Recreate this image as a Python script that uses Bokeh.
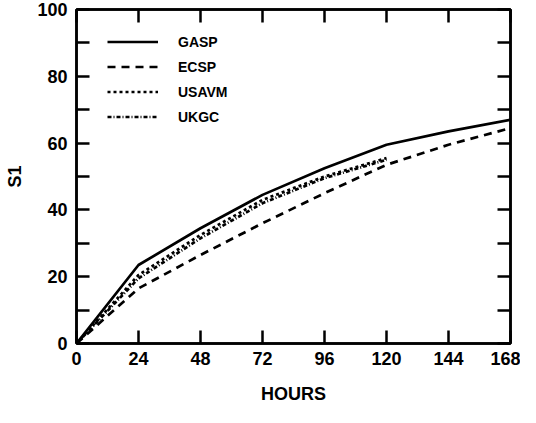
from bokeh.plotting import figure
from bokeh.models import LinearAxis, FixedTicker, Range1d, Legend, LegendItem, CustomJSTickFormatter
from bokeh.embed import file_html
from bokeh.resources import INLINE

hours = [0, 24, 48, 72, 96, 120, 144, 168]
hours_short = [0, 24, 48, 72, 96, 120]
gasp = [0, 23.5, 34.5, 44.5, 52.5, 59.5, 63.5, 67]
ecsp = [0, 16.5, 26.5, 36, 45, 53.5, 59.5, 64.5]
usavm = [0, 20.5, 32.5, 43, 50, 55.5]
ukgc = [0, 19.5, 31.5, 42, 49.5, 55]
x_ticks = [0, 24, 48, 72, 96, 120, 144, 168]
y_ticks = [0, 20, 40, 60, 80, 100]
y_minor = [10, 30, 50, 70, 90]

FONT = "Liberation Sans"

p = figure(width=520, height=407, output_backend="svg", toolbar_location=None,
           x_range=Range1d(0, 168), y_range=Range1d(0, 100),
           min_border_left=76, min_border_right=10, min_border_top=9, min_border_bottom=64)
p.grid.visible = False
p.outline_line_color = "black"
p.outline_line_width = 2.5
p.background_fill_color = "white"
p.border_fill_color = "white"

def style_axis(ax, labels=True):
    ax.axis_line_width = 2.5
    ax.axis_line_color = "black"
    ax.major_tick_in = 13
    ax.major_tick_out = 0
    ax.minor_tick_in = 13
    ax.minor_tick_out = 0
    ax.major_tick_line_width = 2.5
    ax.minor_tick_line_width = 2.5
    ax.major_label_text_font = FONT
    ax.major_label_text_font_style = "bold"
    ax.major_label_text_font_size = "18px"
    ax.major_label_text_color = "black"
    ax.axis_label_text_font = FONT
    ax.axis_label_text_font_style = "bold"
    ax.axis_label_text_font_size = "18px"
    ax.axis_label_text_color = "black"
    if not labels:
        ax.formatter = CustomJSTickFormatter(code="return '';")
        ax.major_label_standoff = 0

xb = p.xaxis[0]
xb.ticker = FixedTicker(ticks=x_ticks, minor_ticks=[])
xb.axis_label = "HOURS"
style_axis(xb)
xb.major_label_standoff = 8
xb.axis_label_standoff = 16

yl = p.yaxis[0]
yl.ticker = FixedTicker(ticks=y_ticks, minor_ticks=y_minor)
yl.axis_label = "S1"
style_axis(yl)
yl.major_label_standoff = 9
yl.axis_label_standoff = 9

xt = LinearAxis(ticker=FixedTicker(ticks=x_ticks, minor_ticks=[]))
style_axis(xt, labels=False)
p.add_layout(xt, "above")
yr = LinearAxis(ticker=FixedTicker(ticks=y_ticks, minor_ticks=y_minor))
style_axis(yr, labels=False)
p.add_layout(yr, "right")

lw = 2.7
r1 = p.line(hours, gasp, line_color="black", line_width=lw)
r2 = p.line(hours, ecsp, line_color="black", line_width=lw, line_dash="8 6")
r3 = p.line(hours_short, usavm, line_color="black", line_width=lw, line_dash="3 3")
r4 = p.line(hours_short, ukgc, line_color="black", line_width=lw, line_dash="4 2 1 2")

legend = Legend(items=[LegendItem(label="GASP", renderers=[r1]),
                       LegendItem(label="ECSP", renderers=[r2]),
                       LegendItem(label="USAVM", renderers=[r3]),
                       LegendItem(label="UKGC", renderers=[r4])],
                location=(31, 214), padding=0, margin=0, spacing=0,
                glyph_width=51, glyph_height=25, label_height=25, label_standoff=20,
                border_line_color=None, background_fill_alpha=0,
                label_text_font=FONT, label_text_font_style="bold",
                label_text_font_size="14px", label_text_color="black")
p.add_layout(legend, "center")

open("out.html", "w").write(file_html(p, INLINE))
